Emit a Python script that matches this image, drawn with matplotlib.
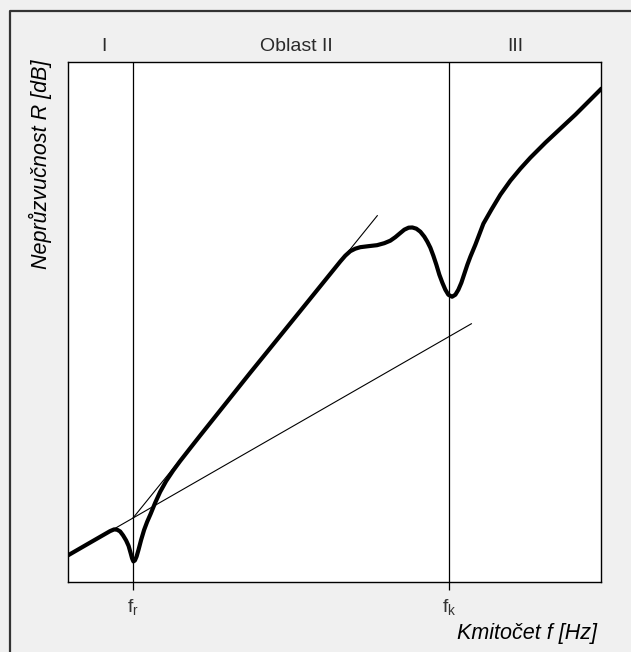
import matplotlib.pyplot as plt
from matplotlib.lines import Line2D
from matplotlib.transforms import blended_transform_factory

plt.rcParams["font.family"] = ["Liberation Sans", "DejaVu Sans"]

# Sound reduction index R against frequency f (arbitrary log-like units)
f_curve = [0, 22, 42, 46, 49, 52, 55, 58, 60.5, 62.5, 64, 65.3, 66.8, 68.5,
           70.5, 73, 76, 79, 82.5, 87, 92, 98, 105, 112, 122, 132, 145, 182,
           232, 272, 277, 282, 287, 292, 300, 308.7, 316, 322, 327, 332, 336,
           340.3, 344, 348, 352, 356, 359, 362, 365, 368, 371, 374, 377, 380,
           383.7, 387, 390, 393, 396, 399, 402, 407, 415, 423, 432, 442, 452,
           462, 477, 492, 507, 522, 533]
r_curve = [26.6, 39.3, 50.8, 52.5, 52.2, 50.5, 46.5, 41.5, 36, 29, 23.5, 20.5,
           21.5, 25.5, 32.5, 42, 52, 60, 68, 79, 90, 100.8, 111.3, 120.8,
           133.6, 146.3, 162.6, 209, 270.7, 320.2, 326, 330.5, 333, 334.5,
           335.5, 336.5, 338.5, 341, 344.5, 348.7, 352, 354, 354.2, 353, 350,
           345, 340, 334, 326, 317, 307, 299, 292, 287, 285, 287, 292, 299,
           308, 317, 325, 337, 358, 372, 387, 401, 413, 424, 439, 453, 467,
           482, 493]

# mass law line and the region II asymptote
mass_f = [0, 403]
mass_r = [26.6, 258]
slope_f = [65, 309]
slope_r = [64, 366]

f_r, f_k = 65, 381
tick_labels = [r"f$_\mathregular{r}$", r"f$_\mathregular{k}$"]
regions = [(36, "I"), (228, "Oblast II"), (447, "III")]

W, H = 631, 652
fig = plt.figure(figsize=((W + 0.5) / 100, (H + 0.5) / 100), dpi=100,
                 facecolor="#f0f0f0")
# outer frame, open towards the right and bottom edges
x0, y0 = 9.5 / W, 1 - 11 / H
fig.add_artist(Line2D([x0, x0, 1.0], [0.0, y0, y0], transform=fig.transFigure,
                      color="#333333", lw=1.6, solid_capstyle="butt"))

ax = fig.add_axes([68 / W, 1 - 582 / H, 533 / W, 520 / H])
ax.set_facecolor("white")
ax.set_xlim(0, 533)
ax.set_ylim(0, 520)
for s in ax.spines.values():
    s.set_linewidth(1.0)

ax.axvline(f_r, color="black", lw=0.9)
ax.axvline(f_k, color="black", lw=0.9)
ax.plot(mass_f, mass_r, color="black", lw=0.8)
ax.plot(slope_f, slope_r, color="black", lw=0.8)
ax.plot(f_curve, r_curve, color="black", lw=3.0,
        solid_joinstyle="round", solid_capstyle="round")

ax.set_xticks([f_r, f_k], tick_labels, fontsize=14, color="#333333")
ax.tick_params(axis="x", direction="out", length=6, width=0.9, pad=5)
ax.set_yticks([])

trans = blended_transform_factory(ax.transData, ax.transAxes)
for x, label in regions:
    ax.text(x, 1 + 16 / 520, label, transform=trans, ha="center",
            va="center", fontsize=14, color="#2a2a2a")

fig.text(40 / W, 1 - 164 / H, "Neprůzvučnost R [dB]", rotation=90,
         ha="center", va="center", fontsize=15.5, style="italic",
         color="black")
fig.text(597 / W, 1 - 633 / H, "Kmitočet f [Hz]", ha="right",
         va="center", fontsize=15.5, style="italic", color="black")

fig.savefig("out.png", dpi=100, facecolor=fig.get_facecolor())
